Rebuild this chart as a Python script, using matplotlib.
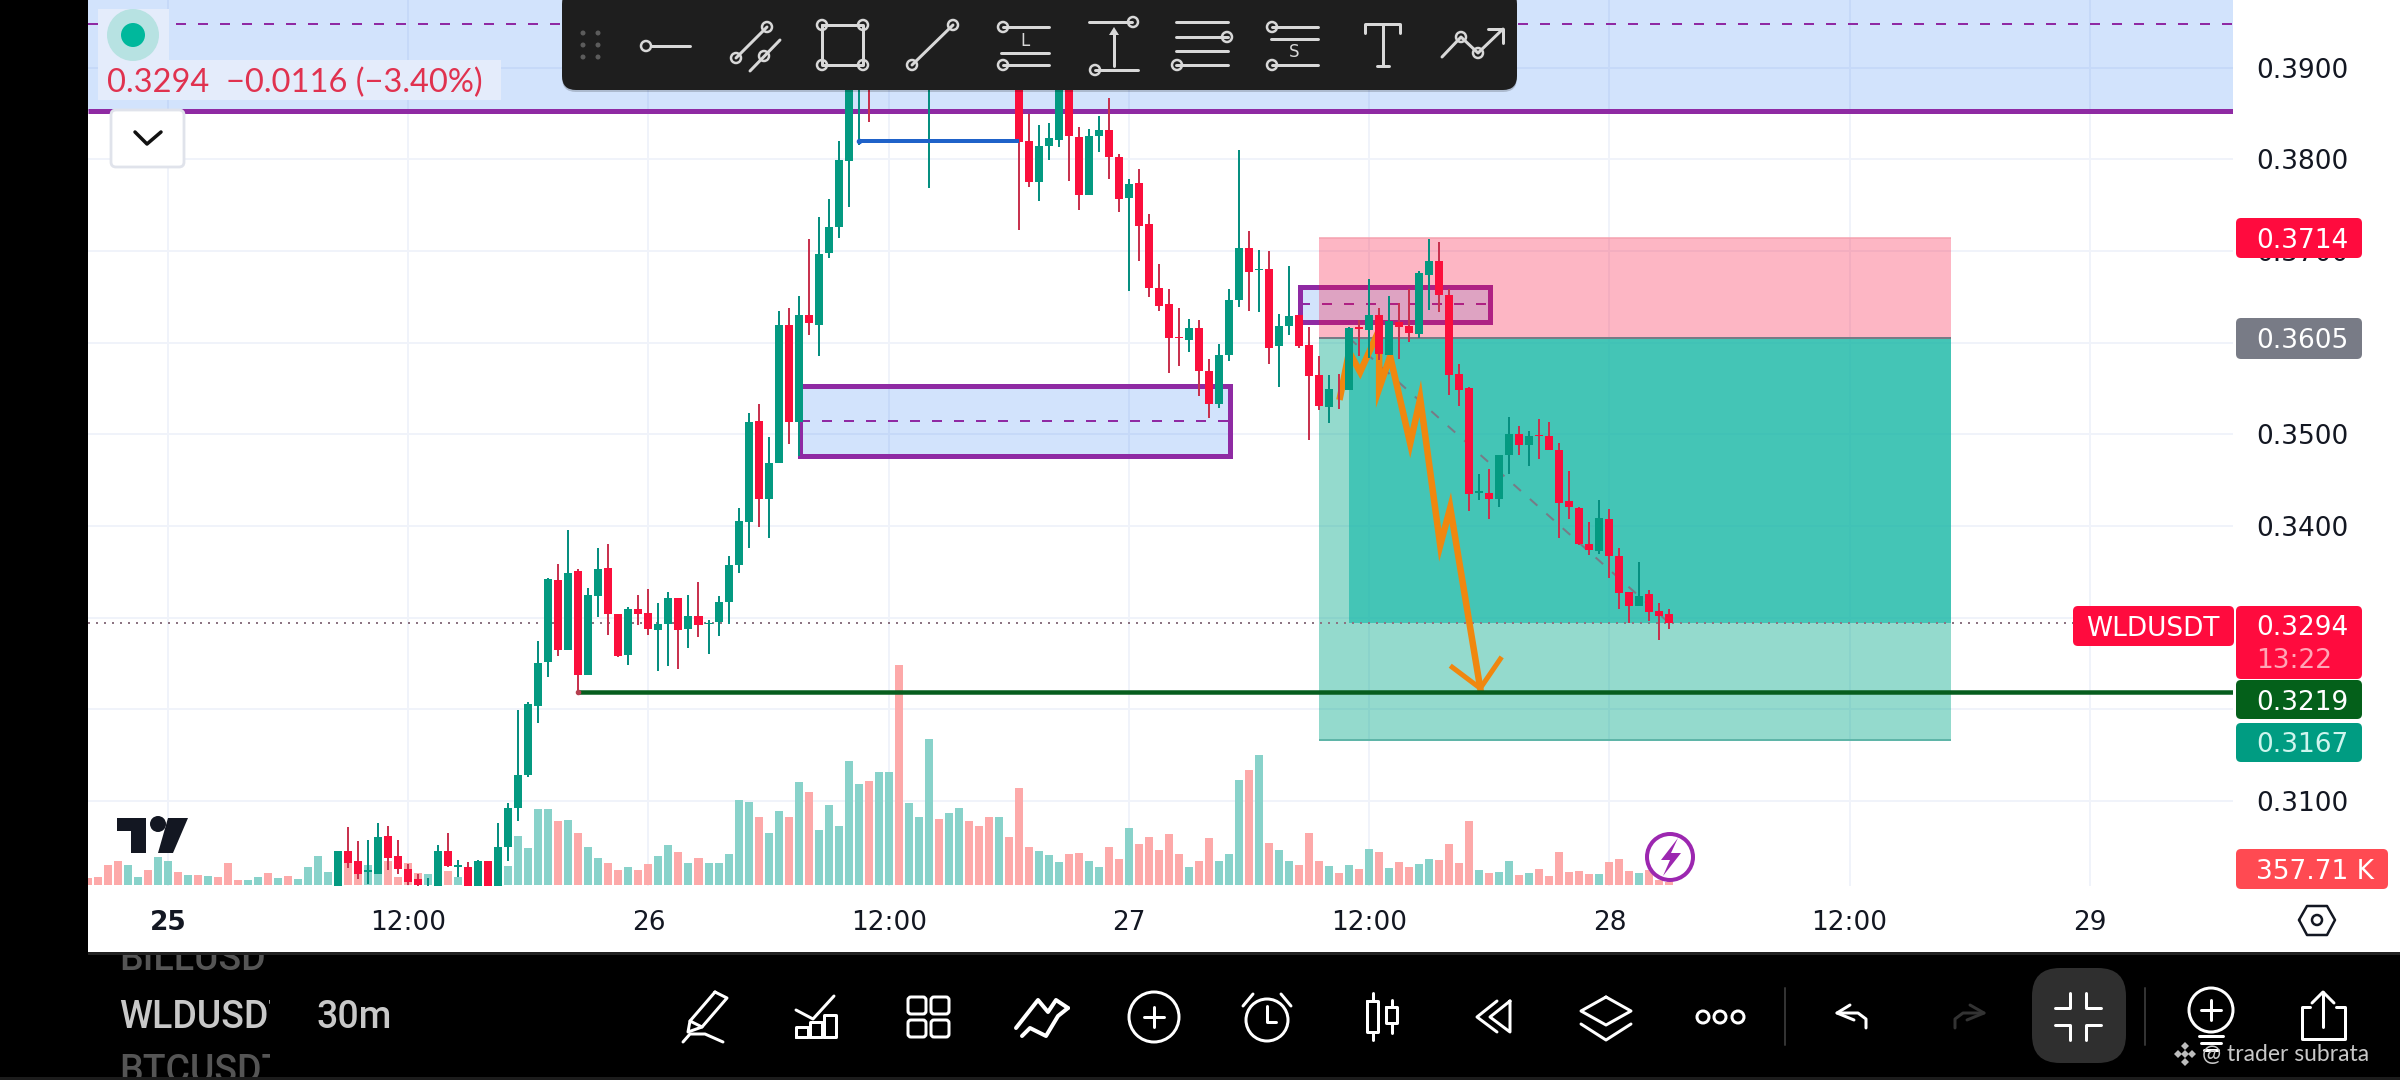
import matplotlib
matplotlib.use('Agg')
import matplotlib.pyplot as plt
import numpy as np
from matplotlib.patches import Rectangle, FancyBboxPatch, Circle, Polygon

# candles, 30m bars, first visible one is bar 17 (bar 0 = the 25th 00:00)
first_bar = 17
opens = [.3005,.3046,.3035,.3023,.3021,.3062,.3040,.3026,.3015,.3000,.3005,.3046,.3028,.3028,.3005,.3035,.3005,.3050,.3093,.3129,
         .3204,.3252,.3341,.3265,.3351,.3238,.3324,.3354,.3304,.3259,.3309,.3305,.3287,.3293,.3322,.3288,.3302,.3293,.3295,.3317,
         .3357,.3404,.3514,.3429,.3469,.3619,.3513,.3630,.3619,.3698,.3726,.3798,.3905,.3930,.3925,.3940,.3955,.3925,.3945,.3925,
         .3945,.3925,.3935,.3945,.3930,.3915,.3905,.3915,.3895,.3820,.3775,.3814,.3821,.3890,.3824,.3761,.3825,.3832,.3803,.3758,
         .3774,.3729,.3660,.3642,.3606,.3603,.3616,.3569,.3533,.3586,.3646,.3703,.3679,.3680,.3596,.3618,.3630,.3597,.3565,.3530,
         .3551,.3548,.3617,.3614,.3630,.3587,.3623,.3618,.3609,.3674,.3689,.3652,.3566,.3551,.3436,.3436,.3429,.3477,.3500,.3488,
         .3499,.3498,.3483,.3427,.3420,.3380,.3373,.3408,.3367,.3328,.3313,.3326,.3307,.3304]
highs = [.3046,.3072,.3056,.3058,.3076,.3073,.3058,.3031,.3020,.3016,.3052,.3065,.3036,.3034,.3036,.3035,.3076,.3098,.3199,.3208,
         .3275,.3343,.3359,.3396,.3353,.3332,.3376,.3380,.3304,.3312,.3325,.3331,.3316,.3328,.3322,.3325,.3339,.3298,.3324,.3367,
         .3420,.3523,.3533,.3497,.3634,.3638,.3651,.3713,.3737,.3757,.3820,.3930,.3950,.3950,.3955,.3965,.3975,.3955,.3965,.3955,
         .3950,.3945,.3955,.3950,.3935,.3925,.3925,.3920,.3900,.3849,.3837,.3840,.3900,.3895,.3835,.3833,.3847,.3867,.3806,.3779,
         .3789,.3740,.3686,.3658,.3638,.3626,.3625,.3582,.3599,.3658,.3810,.3722,.3701,.3700,.3631,.3684,.3630,.3617,.3585,.3565,
         .3566,.3617,.3625,.3669,.3638,.3651,.3643,.3659,.3678,.3713,.3710,.3658,.3577,.3552,.3457,.3462,.3478,.3519,.3509,.3504,
         .3517,.3513,.3491,.3460,.3421,.3404,.3428,.3419,.3376,.3328,.3361,.3330,.3316,.3310]
lows = [.2995,.3027,.3015,.3010,.3021,.3025,.3020,.3008,.3005,.2995,.3005,.3028,.3017,.3005,.3005,.3005,.3005,.3035,.3078,.3126,
        .3185,.3235,.3258,.3265,.3219,.3238,.3301,.3281,.3257,.3248,.3292,.3281,.3242,.3247,.3244,.3267,.3279,.3260,.3280,.3293,
        .3349,.3376,.3399,.3387,.3469,.3490,.3476,.3608,.3585,.3692,.3714,.3748,.3816,.3841,.3905,.3925,.3900,.3900,.3925,.3769,
        .3875,.3905,.3915,.3915,.3900,.3890,.3890,.3885,.3723,.3770,.3754,.3799,.3813,.3776,.3745,.3761,.3808,.3778,.3743,.3656,
        .3689,.3650,.3635,.3567,.3574,.3590,.3542,.3518,.3529,.3580,.3639,.3635,.3633,.3577,.3552,.3608,.3594,.3494,.3526,.3512,
        .3528,.3548,.3585,.3583,.3581,.3587,.3582,.3601,.3605,.3636,.3633,.3543,.3531,.3416,.3428,.3408,.3421,.3457,.3477,.3465,
        .3473,.3483,.3387,.3408,.3379,.3368,.3370,.3343,.3310,.3294,.3313,.3296,.3276,.3288]
closes = [.3046,.3033,.3020,.3025,.3061,.3038,.3026,.3012,.3008,.3003,.3046,.3029,.3030,.3005,.3035,.3005,.3050,.3093,.3129,.3206,
          .3251,.3342,.3265,.3349,.3237,.3325,.3353,.3304,.3258,.3309,.3304,.3288,.3293,.3322,.3287,.3302,.3292,.3294,.3317,.3357,
          .3405,.3513,.3429,.3469,.3619,.3513,.3630,.3621,.3697,.3726,.3799,.3905,.3925,.3905,.3940,.3955,.3925,.3945,.3955,.3945,
          .3925,.3935,.3945,.3930,.3915,.3905,.3915,.3895,.3819,.3775,.3814,.3823,.3890,.3825,.3761,.3825,.3832,.3802,.3757,.3773,
          .3727,.3660,.3640,.3605,.3605,.3616,.3569,.3533,.3587,.3647,.3703,.3677,.3680,.3594,.3618,.3629,.3596,.3564,.3531,.3549,
          .3550,.3616,.3615,.3630,.3588,.3624,.3617,.3610,.3676,.3689,.3652,.3565,.3548,.3435,.3438,.3429,.3477,.3500,.3488,.3498,
          .3498,.3483,.3425,.3421,.3380,.3374,.3409,.3367,.3327,.3313,.3324,.3306,.3302,.3294]

# volume bars read as bar height, bars -8..150, 8 of these = 357.71 K
volume_read = [20,25,60,72,60,25,45,83,72,39,30,30,27,25,66,15,15,24,36,21,27,18,54,87,39,
               60,66,37,59,39,72,24,67,37,32,60,42,25,30,30,30,50,57,147,110,227,227,191,194,155,113,82,67,44,53,
               45,63,87,120,99,66,81,66,66,93,255,249,204,156,222,204,309,279,165,240,177,372,303,312,
               339,339,660,246,204,438,198,216,231,192,177,204,204,144,291,114,102,90,69,93,96,72,54,114,78,171,123,144,105,153,
               93,54,72,141,72,93,315,345,390,126,105,72,60,156,72,57,36,60,48,108,99,51,69,54,63,78,75,123,66,192,
               45,36,39,72,30,36,48,27,99,39,42,33,33,69,78,42,36,45,15,8]
# colour of the bars whose candle is below the chart (1 = up)
early_up = [0,0,0,0,1,1,0,1,1,0,1,0,1,0,0,0,1,1,0,1,0,1,1,1,1]

price_ticks = [.31,.32,.33,.34,.35,.36,.37,.38,.39]
# .33 and .36 sit fully behind price tags in the reference
price_labels = ['0.3100','0.3200','','0.3400','0.3500','','0.3700','0.3800','0.3900']
time_ticks = [0,24,48,72,96,120,144,168,192]
time_labels = ['25','12:00','26','12:00','27','12:00','28','12:00','29']

arrow_bar = [117.1,118,119.1,121,121,122.1,124.1,125.1,127.1,128.1,131.1]
arrow_price = [.3541,.3590,.3568,.3614,.3550,.3585,.3490,.3539,.3379,.3420,.3223]
head_bar = [128.3,131.1,133.1]
head_price = [.3246,.3223,.3255]

GREEN = '#049a81'
RED = '#fb0f3c'
PURPLE = '#8f2aa3'
INK = '#131722'
ZONE = (.13, .45, .95, .2)

W, H = 2400, 1080
PX = 72 / 100  # points per pixel
fig = plt.figure(figsize=(24, 10.8), dpi=100, facecolor='white')
box = [88 / W, 1 - 886 / H, (2233 - 88) / W, 886 / H]
xlim = (-7.99, 206.3)
ylim = (.30074, .39737)

# grid and axis labels
ax = fig.add_axes(box, zorder=1)
ax.set_xlim(xlim)
ax.set_ylim(ylim)
for s in ax.spines.values():
    s.set_visible(False)
ax.yaxis.tick_right()
ax.set_yticks(price_ticks)
ax.set_yticklabels(price_labels)
ax.set_xticks(time_ticks)
ax.set_xticklabels(time_labels)
ax.tick_params(axis='y', length=0, pad=23 * PX, labelsize=19, labelcolor=INK)
ax.tick_params(axis='x', length=0, pad=24 * PX, labelsize=19, labelcolor=INK)
ax.get_xticklabels()[0].set_fontweight('bold')
ax.grid(True, color='#f0f3fa', lw=2 * PX)
ax.set_axisbelow(True)

# volume
vax = fig.add_axes(box, zorder=2, facecolor='none')
vax.set_axis_off()
vax.set_xlim(xlim)
vax.set_ylim(-134.1, 118678)
up = list(early_up) + [1 if c >= o else 0 for o, c in zip(opens, closes)]
bars = np.arange(-8, -8 + len(volume_read))
volume_k = np.array(volume_read) * 44.7
vax.bar(bars, volume_k, width=.8, lw=0, color=['#88d2ca' if u else '#fda9a9' for u in up])

# drawings and candles
pax = fig.add_axes(box, zorder=3, facecolor='none')
pax.set_axis_off()
pax.set_xlim(xlim)
pax.set_ylim(ylim)

# order blocks
def block(x0, x1, lo, mid, hi, z):
    pax.add_patch(Rectangle((x0, lo), x1 - x0, hi - lo, fc=ZONE, ec=PURPLE, lw=5 * PX, zorder=z))
    pax.hlines(mid, x0, x1, color=PURPLE, lw=2 * PX, ls=(0, (5, 6)), zorder=z)

pax.add_patch(Rectangle((xlim[0], .3853), xlim[1] - xlim[0], .02, fc=ZONE, lw=0, zorder=3))
pax.hlines(.3853, *xlim, color=PURPLE, lw=5 * PX, zorder=3)
pax.hlines(.39475, *xlim, color=PURPLE, lw=2 * PX, ls=(0, (5, 6)), zorder=3)
block(63.1, 106.1, .3476, .3515, .3553, 3)
block(113.1, 132.1, .3623, .3642, .3661, .5)

# short position tool, the small block above sits under its pink part
tool_x0, tool_x1 = 115, 178.1
stop, entry, target, last = .3714, .3605, .3167, .3294
pax.add_patch(Rectangle((tool_x0, entry), tool_x1 - tool_x0, stop - entry, fc=RED, alpha=.3, lw=0, zorder=1))
pax.add_patch(Rectangle((tool_x0, target), tool_x1 - tool_x0, entry - target, fc='#00a88a', alpha=.42, lw=0, zorder=1))
pax.add_patch(Rectangle((118, last), tool_x1 - 118, entry - last, fc='#10b8a8', alpha=.6, lw=0, zorder=1))
pax.hlines(entry, tool_x0, tool_x1, color='#787b86', lw=2 * PX, zorder=1.5)
pax.hlines(target, tool_x0, tool_x1, color='#5fb5a8', lw=2 * PX, zorder=1.5)
pax.hlines(stop, tool_x0, tool_x1, color='#f5a0ae', lw=1.5 * PX, zorder=1.5)
pax.plot([118, 150], [entry, last], color='#787b86', lw=2 * PX, ls=(0, (5, 6)), zorder=3.5)

# last price line
pax.hlines(last, xlim[0], 190.5, color='#8c7482', lw=2 * PX, ls=(0, (1, 3)), zorder=3.2)

# hand drawn arrow
pax.plot(arrow_bar, arrow_price, color='#f0870f', lw=6.5 * PX, solid_joinstyle='miter', zorder=4)
pax.plot(head_bar, head_price, color='#f0870f', lw=5 * PX, zorder=4)

# candles
x = np.arange(first_bar, first_bar + len(opens))
o, h, l, c = map(np.array, (opens, highs, lows, closes))
is_up = c >= o
pax.vlines(x, l, h, colors=['#068f80' if u else '#c8324f' for u in is_up], lw=2 * PX, zorder=5)
pax.bar(x, np.abs(c - o), bottom=np.minimum(o, c), width=.8, lw=0, color=[GREEN if u else RED for u in is_up], zorder=5.1)

pax.hlines(.3820, 69, 85, color='#1f62c9', lw=4 * PX, zorder=6)
pax.plot([69], [.3820], 'o', ms=3, color='#1f62c9', zorder=6)
pax.hlines(.3219, 41, xlim[1], color='#075d1e', lw=4.5 * PX, zorder=6)
pax.plot([41], [.3219], 'o', ms=3, color='#b5404f', zorder=6)

# everything of the app around the chart, in screen pixels
ui = fig.add_axes([0, 0, 1, 1], zorder=5, facecolor='none')
ui.set_axis_off()
ui.set_xlim(0, W)
ui.set_ylim(H, 0)

def rect(x0, y0, x1, y1, fc, r=0, **kw):
    style = 'round,pad=0,rounding_size=%g' % r if r else 'square,pad=0'
    p = FancyBboxPatch((x0, y0), x1 - x0, y1 - y0, boxstyle=style, fc=fc, lw=kw.pop('lw', 0), **kw)
    ui.add_patch(p)
    return p

def line(xs, ys, color='white', lw=3):
    ui.plot(xs, ys, color=color, lw=lw * PX, solid_capstyle='round', solid_joinstyle='round')

def ring(cx, cy, r, color='white', lw=3, fc='none'):
    ui.add_patch(Circle((cx, cy), r, fc=fc, ec=color, lw=lw * PX))

def tag(x0, y0, x1, y1, fc, text, tc='white', tx=2256, ha='left', size=19):
    rect(x0, y0, x1, y1, fc, r=5)
    ui.text(tx, (y0 + y1) / 2, text, color=tc, fontsize=size, ha=ha, va='center_baseline')

# price tags
tag(2236, 218, 2362, 258, '#ff0b3e', '0.3714')
tag(2236, 318, 2362, 359, '#787b86', '0.3605')
tag(2073, 606, 2234, 646, '#ff0b3e', 'WLDUSDT', tx=2153, ha='center')
rect(2236, 606, 2362, 679, '#ff0b3e', r=5)
ui.text(2256, 625, '0.3294', color='white', fontsize=19, va='center_baseline')
ui.text(2256, 658, '13:22', color='#ffa6b6', fontsize=19, va='center_baseline')
tag(2236, 680, 2362, 719, '#04601a', '0.3219')
tag(2236, 723, 2362, 762, '#009c82', '0.3167', tc='#cff5ee')
tag(2236, 849, 2388, 889, '#ff4a52', '357.71 K')

# logo and lightning badge
ui.add_patch(Polygon([(117, 818), (146, 818), (146, 853), (131, 853), (131, 831), (117, 831)], fc=INK, lw=0))
ring(158, 824, 8, color=INK, lw=0, fc=INK)
ui.add_patch(Polygon([(168, 818), (188, 818), (173, 853), (158, 853)], fc=INK, lw=0))
ring(1670, 857, 23, color='#9c27b0', lw=4, fc='white')
ui.add_patch(Polygon([(1678, 838), (1661, 860), (1670, 860), (1663, 876), (1681, 853), (1671, 853)], fc='#9c27b0', lw=0))

# legend top left
rect(98, 9, 169, 60, '#e4ecfb')
rect(98, 60, 501, 100, '#e4ecfb')
ring(133, 35, 26, lw=0, fc='#b7e2e2')
ring(133, 35, 12, lw=0, fc='#00b89c')
ui.text(107, 80, '0.3294  \u22120.0116 (\u22123.40%)', color='#e0324f', fontsize=23.5, va='center_baseline', family=['Lato', 'DejaVu Sans'])
rect(111, 110, 184, 167, 'white', r=5, ec='#e0e3eb', lw=2)
line([135, 147, 161], [132, 144, 132], color='#111111', lw=3.5)

# drawing toolbar
rect(562, 6, 1517, 92, '#000000', r=14, alpha=.18)
rect(562, -10, 1517, 90, '#1e1e1e', r=14)
for dx in (583, 598):
    for dy in (33, 45, 57):
        ring(dx, dy, 2.5, lw=0, fc='#5c5c5c')
T = '#d8d8d8'
TL = '#1e1e1e'
def knob(cx, cy):
    ring(cx, cy, 5, color=T, lw=2.5, fc=TL)
line([651, 690], [46, 46], T); knob(646, 46)
line([736, 767], [58, 27], T); line([750, 780], [71, 40], T)
knob(767, 27); knob(736, 58); knob(764, 56)
line([822, 863, 863, 822, 822], [25, 25, 65, 65, 25], T)
for q in [(822, 25), (863, 25), (822, 65), (863, 65)]:
    knob(*q)
line([912, 953], [65, 25], T); knob(912, 65); knob(953, 25)
line([1003, 1049], [27, 27], T); line([1001, 1049], [53, 53], T); line([1003, 1049], [65, 65], T)
knob(1003, 27); knob(1003, 65)
ui.text(1025, 41, 'L', color=T, fontsize=12, ha='center', va='center')
line([1089, 1132], [22, 22], T); line([1095, 1138], [70, 70], T); line([1114, 1114], [32, 66], T)
ui.add_patch(Polygon([(1114, 27), (1109, 35), (1119, 35)], fc=T, lw=0))
knob(1133, 22); knob(1095, 70)
for yy in (22, 37, 51, 65):
    line([1176, 1228], [yy, yy], T)
knob(1227, 37); knob(1177, 65)
line([1272, 1318], [27, 27], T); line([1271, 1318], [39, 39], T); line([1272, 1318], [65, 65], T)
knob(1272, 27); knob(1272, 65)
ui.text(1294, 52, 'S', color=T, fontsize=12, ha='center', va='center')
line([1365, 1365, 1400, 1400], [33, 24, 24, 33], T); line([1383, 1383], [24, 66], T); line([1377, 1389], [66, 66], T)
line([1442, 1461, 1478, 1503], [57, 37, 53, 29], T); line([1488, 1503, 1503], [29, 29, 43], T)
knob(1461, 37); knob(1478, 53)

# bottom bar
rect(0, 0, 88, H, 'black')
rect(0, 952, W, H, 'black')
rect(88, 952, W, 955, '#222222')
rect(0, 1077, W, H, '#1c1c1c')
for label, yy, col in [('BILLUSDT', 960, '#555555'), ('WLDUSDT', 1017, '#c8c8c8'), ('BTCUSDT', 1072, '#555555')]:
    t = ui.text(119, yy, label, color=col, fontsize=27, family='Roboto', weight='medium', va='center')
    t.set_clip_on(True)
    t.set_clip_path(Rectangle((88, 955), 182, 122, transform=ui.transData))
ui.text(317, 1017, '30m', color='#c8c8c8', fontsize=27, family='Roboto', weight='medium', va='center')

# bottom icons
line([715, 727, 702, 690, 715], [992, 998, 1027, 1021, 992])
line([690, 688, 702], [1021, 1032, 1027])
line([683, 690, 705, 723], [1042, 1034, 1034, 1042])
line([796, 813, 834], [1010, 1019, 996])
for x0, top in [(796, 1027), (810, 1022), (824, 1015)]:
    line([x0, x0, x0 + 12, x0 + 12, x0], [1037, top, top, 1037, 1037])
for x0 in (908, 931):
    for y0 in (997, 1020):
        rect(x0, y0, x0 + 18, y0 + 17, 'none', r=3, ec='white', lw=3 * PX)
line([1016, 1038, 1048, 1056, 1068], [1028, 1000, 1012, 1000, 1008], lw=4)
line([1022, 1030, 1046, 1058, 1068], [1036, 1028, 1036, 1016, 1008], lw=4)
ring(1154, 1017, 25); line([1144, 1164], [1017, 1017]); line([1154, 1154], [1007, 1027])
ring(1267, 1020, 21); line([1267, 1267, 1276], [1006, 1022, 1022])
line([1243, 1253], [1006, 994]); line([1281, 1291], [994, 1006])
for x0, x1, y0, y1, w0, w1 in [(1367, 1378, 1001, 1032, 993, 1040), (1386, 1397, 1007, 1023, 1000, 1033)]:
    line([x0, x1, x1, x0, x0], [y0, y0, y1, y1, y0])
    line([(x0 + x1) / 2] * 2, [w0, y0]); line([(x0 + x1) / 2] * 2, [y1, w1])
line([1497, 1477, 1497], [1001, 1017, 1032]); line([1510, 1490, 1510, 1510], [1001, 1017, 1032, 1001])
line([1606, 1631, 1606, 1581, 1606], [997, 1011, 1025, 1011, 997])
line([1581, 1606, 1631], [1024, 1040, 1024])
for dx in (1703, 1720, 1738):
    ring(dx, 1017, 6)
line([1785, 1785], [988, 1045], color='#333333', lw=2)
line([1850, 1837, 1854], [1005, 1013, 1020])
line([1837, 1858, 1866, 1866], [1013, 1013, 1019, 1028])
line([1970, 1984, 1967], [1005, 1013, 1020], color='#333333')
line([1984, 1963, 1955, 1955], [1013, 1013, 1019, 1028], color='#333333')
rect(2032, 968, 2126, 1063, '#2f2f2f', r=28)
line([2070, 2070, 2055], [993, 1008, 1008]); line([2086, 2086, 2101], [993, 1008, 1008])
line([2055, 2070, 2070], [1025, 1025, 1040]); line([2101, 2086, 2086], [1025, 1025, 1040])
line([2145, 2145], [988, 1045], color='#333333', lw=2)
ring(2211, 1010, 22); line([2201, 2221], [1010, 1010]); line([2211, 2211], [1000, 1020])
line([2199, 2223], [1036, 1036]); line([2201, 2221], [1043, 1043]); line([2204, 2218], [1050, 1050])
line([2310, 2302, 2302, 2345, 2345, 2336], [1007, 1007, 1039, 1039, 1007, 1007])
line([2323, 2323], [992, 1027]); line([2312, 2323, 2334], [1003, 992, 1003])

# settings hexagon below the price scale
line([2299, 2307, 2327, 2335, 2327, 2307, 2299], [920, 906, 906, 920, 935, 935, 920], color=INK, lw=2.5)
ring(2317, 920, 5, color=INK, lw=2.5)

# watermark
for dx, dy in [(2185, 1046), (2178, 1054), (2192, 1054), (2185, 1062), (2185, 1054)]:
    ui.add_patch(Polygon([(dx, dy - 4), (dx + 4, dy), (dx, dy + 4), (dx - 4, dy)], fc='#bdbdbd', lw=0))
ui.text(2202, 1055, '@ trader subrata', color='#c8c8c8', fontsize=16.5, family=['Lato', 'DejaVu Sans'], va='center')

fig.savefig('out.png', dpi=100)
